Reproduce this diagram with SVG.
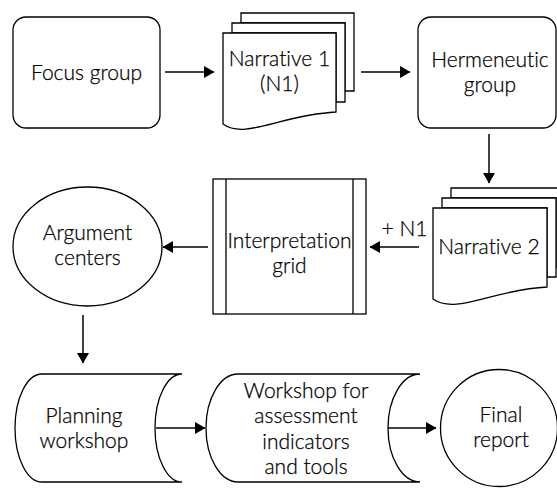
<svg xmlns="http://www.w3.org/2000/svg" width="557" height="489" viewBox="0 0 557 489">
<style>
.shape{fill:#fff;stroke:#000;stroke-width:1.3}
.conn{fill:none;stroke:#000;stroke-width:1.5}
text{font-family:Lato,"Noto Sans","Liberation Sans",sans-serif;font-size:21px;font-weight:300;font-variant-ligatures:none;fill:#000;stroke:#000;stroke-width:0.25;text-anchor:middle}
</style>
<defs>
<marker id="ah" markerUnits="userSpaceOnUse" markerWidth="11" markerHeight="12" refX="10" refY="6" orient="auto">
<path d="M0,0 L10.5,6 L0,12 z" fill="#000"/>
</marker>
</defs>
<rect width="557" height="489" fill="#fff"/>
<g id="focus-group">
<rect class="shape" x="13" y="17" width="147" height="111" rx="13"/>
<text x="86.5" y="80">Focus group</text>
</g>
<g id="narrative-1">
<path class="shape" d="M241,13 H354 V91 H345 V23 H241 z"/>
<path class="shape" d="M232,23 H345 V102 H336 V33 H232 z"/>
<path class="shape" d="M223,33 H336 V112 C280,115 245,140 223,124 z"/>
<text x="279.5" y="66">Narrative 1</text>
<text x="279.5" y="91">(N1)</text>
</g>
<g id="hermeneutic-group">
<rect class="shape" x="418" y="17" width="138" height="111" rx="13"/>
<text x="490" y="67">Hermeneutic</text>
<text x="490" y="92">group</text>
</g>
<g id="narrative-2">
<path class="shape" d="M451,188 H565 V267 H556 V198 H451 z"/>
<path class="shape" d="M442,198 H556 V277 H547 V208 H442 z"/>
<path class="shape" d="M433,208 H547 V287 C491,290 456,315 433,299 z"/>
<text x="489" y="254">Narrative 2</text>
</g>
<g id="interpretation-grid">
<rect class="shape" x="213" y="179" width="153" height="135"/>
<line class="shape" x1="226" y1="179" x2="226" y2="314"/>
<line class="shape" x1="353" y1="179" x2="353" y2="314"/>
<text x="289.5" y="248">Interpretation</text>
<text x="289.5" y="273">grid</text>
</g>
<g id="argument-centers">
<ellipse class="shape" cx="87.5" cy="246.5" rx="74.5" ry="59.5"/>
<text x="87.5" y="240">Argument</text>
<text x="87.5" y="265">centers</text>
</g>
<g id="planning-workshop">
<path class="shape" d="M42,374 H182 A27,54 0 0 0 182,482 H42 A27,54 0 0 1 42,374 z"/>
<text x="84" y="423">Planning</text>
<text x="84" y="448">workshop</text>
</g>
<g id="workshop-assessment">
<path class="shape" d="M238,374 H420 A32,54 0 0 0 420,482 H238 A32,54 0 0 1 238,374 z"/>
<text x="306" y="398">Workshop for</text>
<text x="306" y="423">assessment</text>
<text x="306" y="449">indicators</text>
<text x="306" y="474">and tools</text>
</g>
<g id="final-report">
<circle class="shape" cx="499" cy="428" r="58.5"/>
<text x="501" y="422">Final</text>
<text x="501" y="447">report</text>
</g>
<g id="connectors">
<line class="conn" x1="165" y1="72" x2="214" y2="72" marker-end="url(#ah)"/>
<line class="conn" x1="361" y1="72" x2="410" y2="72" marker-end="url(#ah)"/>
<line class="conn" x1="489" y1="134" x2="489" y2="183" marker-end="url(#ah)"/>
<line class="conn" x1="419" y1="247" x2="370" y2="247" marker-end="url(#ah)"/>
<text x="404.5" y="236">+ N1</text>
<line class="conn" x1="208" y1="247" x2="163" y2="247" marker-end="url(#ah)"/>
<line class="conn" x1="83" y1="315" x2="83" y2="363" marker-end="url(#ah)"/>
<line class="conn" x1="156" y1="428" x2="205" y2="428" marker-end="url(#ah)"/>
<line class="conn" x1="388" y1="428" x2="436" y2="428" marker-end="url(#ah)"/>
</g>
</svg>
